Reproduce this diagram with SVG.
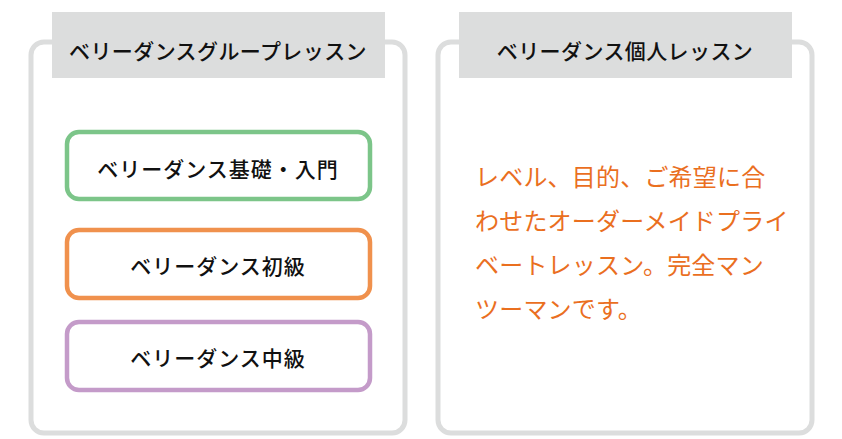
<svg xmlns="http://www.w3.org/2000/svg" width="842" height="439" viewBox="0 0 842 439">
<style>
.panel{fill:#ffffff;stroke:#dcdddd;stroke-width:5}
.head{fill:#dcdddd}
.htxt{font-family:"Noto Sans CJK JP","Noto Sans",sans-serif;font-size:21px;font-weight:500;fill:#111;text-anchor:middle;dominant-baseline:central;letter-spacing:0.4px}
.item{fill:#ffffff;stroke-width:4.5}
.itxt{font-family:"Noto Sans CJK JP","Noto Sans",sans-serif;font-size:21px;font-weight:500;fill:#111;text-anchor:middle;dominant-baseline:central;letter-spacing:1px}
.body{font-family:"Noto Sans CJK JP","Noto Sans",sans-serif;font-size:24px;font-weight:400;fill:#ea6f1f;dominant-baseline:central;letter-spacing:0.2px}
</style>
<rect width="842" height="439" fill="#ffffff"/>
<g id="group-lessons">
<rect class="panel" x="31" y="42" width="374" height="391" rx="13"/>
<rect class="head" x="52" y="12" width="333" height="66"/>
<text class="htxt" x="218" y="50">ベリーダンスグループレッスン</text>
</g>
<g id="private-lessons">
<rect class="panel" x="438" y="42" width="374" height="391" rx="13"/>
<rect class="head" x="459" y="12" width="333" height="66"/>
<text class="htxt" x="625" y="50">ベリーダンス個人レッスン</text>
<text class="body" x="475" y="175">レベル、目的、ご希望に合</text>
<text class="body" x="475" y="219">わせたオーダーメイドプライ</text>
<text class="body" x="475" y="263">ベートレッスン。完全マン</text>
<text class="body" x="475" y="307">ツーマンです。</text>
</g>
<g id="basic">
<rect class="item" x="67" y="132" width="303" height="67" rx="12" stroke="#7cc589"/>
<text class="itxt" x="218" y="168">ベリーダンス基礎・入門</text>
</g>
<g id="beginner">
<rect class="item" x="67" y="230" width="303" height="68" rx="12" stroke="#f0914d"/>
<text class="itxt" x="218" y="265">ベリーダンス初級</text>
</g>
<g id="intermediate">
<rect class="item" x="67" y="322" width="303" height="68" rx="12" stroke="#c49bc9"/>
<text class="itxt" x="218" y="357">ベリーダンス中級</text>
</g>
<g id="connectors"/>
</svg>
